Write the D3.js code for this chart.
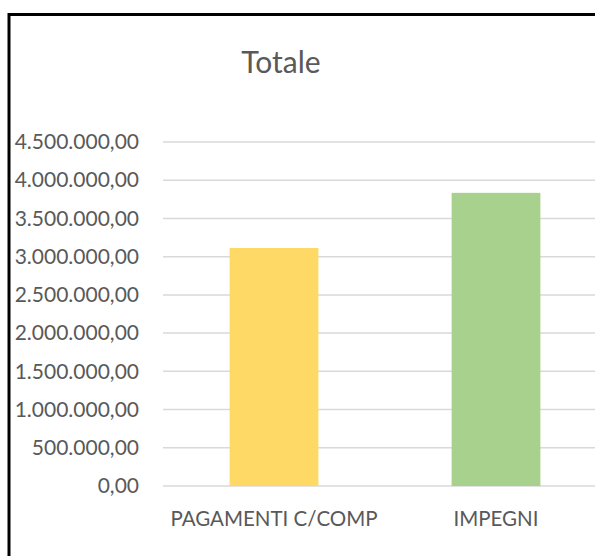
<!DOCTYPE html>
<html>
<head>
<meta charset="utf-8">
<script src="https://cdn.jsdelivr.net/npm/d3@7"></script>
<style>
  body { margin: 0; background: #fff; }
  text { font-family: Lato, "Open Sans", sans-serif; fill: #595959; }
</style>
</head>
<body>
<script>
const width = 595;
const height = 556;

const categories = ["PAGAMENTI C/COMP", "IMPEGNI"];
const values = [3114000, 3835000];
const colors = ["#FFD966", "#A9D18E"];
const tickValues = [0, 500000, 1000000, 1500000, 2000000, 2500000, 3000000, 3500000, 4000000, 4500000];

const margin = { top: 142, left: 163, right: 607, bottom: 486 };

const svg = d3
  .select("body")
  .append("svg")
  .attr("width", width)
  .attr("height", height);

// chart frame (cut off on the right and bottom)
svg
  .append("rect")
  .attr("x", 9)
  .attr("y", 14.5)
  .attr("width", 700)
  .attr("height", 700)
  .attr("fill", "none")
  .attr("stroke", "#000")
  .attr("stroke-width", 3);

const x = d3
  .scaleBand()
  .domain(categories)
  .range([margin.left, margin.right])
  .paddingInner(0.6)
  .paddingOuter(0.3);

const y = d3
  .scaleLinear()
  .domain([0, 4500000])
  .range([margin.bottom, margin.top]);

const fmt = (v) =>
  d3.format(",.2f")(v).replace(/,/g, "#").replace(".", ",").replace(/#/g, ".");

// gridlines
svg
  .append("g")
  .selectAll("line")
  .data(tickValues)
  .enter()
  .append("line")
  .attr("x1", margin.left)
  .attr("x2", width)
  .attr("y1", (d) => y(d))
  .attr("y2", (d) => y(d))
  .attr("stroke", "#D9D9D9")
  .attr("stroke-width", 1.5);

// bars
svg
  .append("g")
  .selectAll("rect")
  .data(values)
  .enter()
  .append("rect")
  .attr("x", (d, i) => x(categories[i]))
  .attr("width", x.bandwidth())
  .attr("y", (d) => y(d))
  .attr("height", (d) => y(0) - y(d))
  .attr("fill", (d, i) => colors[i]);

// y axis labels
const yAxis = d3
  .axisLeft(y)
  .tickValues(tickValues)
  .tickFormat(fmt)
  .tickSize(0)
  .tickPadding(0);

const gy = svg
  .append("g")
  .attr("transform", "translate(139,0)")
  .call(yAxis);
gy.select(".domain").remove();
gy.selectAll("text")
  .style("font-family", "Lato, sans-serif")
  .style("font-size", "21px")
  .attr("fill", "#595959");

// x axis labels
const xAxis = d3.axisBottom(x).tickSize(0).tickPadding(0);
const gx = svg
  .append("g")
  .attr("transform", "translate(0,0)")
  .call(xAxis);
gx.select(".domain").remove();
gx.selectAll("text")
  .attr("y", 526)
  .attr("dy", 0)
  .style("font-family", "Lato, sans-serif")
  .style("font-size", "20.5px")
  .attr("fill", "#595959");

// title
svg
  .append("text")
  .attr("x", 281)
  .attr("y", 73)
  .attr("text-anchor", "middle")
  .style("font-size", "30px")
  .text("Totale");
</script>
</body>
</html>
